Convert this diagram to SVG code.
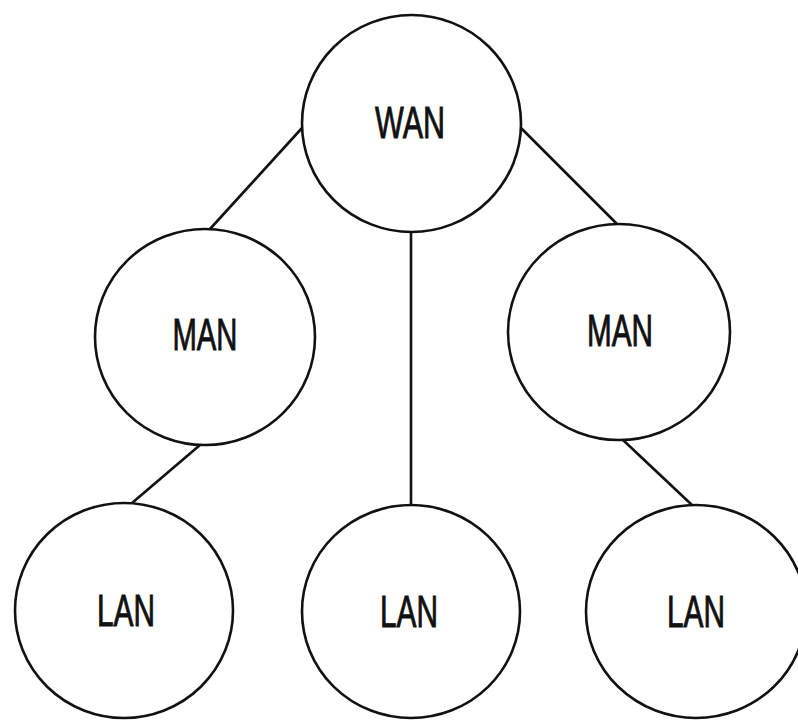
<svg xmlns="http://www.w3.org/2000/svg" width="798" height="722" viewBox="0 0 798 722">
<style>
.node ellipse{fill:#fff;stroke:#111;stroke-width:2.6}
.node text{font-family:"Liberation Sans",Arial,sans-serif;font-size:44px;fill:#111;stroke:#111;stroke-width:0.9;text-anchor:middle}
.edges line{stroke:#111;stroke-width:2.6}
</style>
<rect width="798" height="722" fill="#fff"/>
<g class="edges">
<line x1="302" y1="128" x2="210" y2="229"/>
<line x1="521" y1="128" x2="617" y2="224"/>
<line x1="411" y1="232" x2="411" y2="505"/>
<line x1="200" y1="445" x2="132" y2="503"/>
<line x1="623" y1="440" x2="692" y2="505"/>
</g>
<g id="wan" class="node"><ellipse cx="411.5" cy="123.5" rx="109.5" ry="108.5"/><text x="410" y="138" textLength="70" lengthAdjust="spacingAndGlyphs">WAN</text></g>
<g id="man-left" class="node"><ellipse cx="205" cy="337" rx="110" ry="108"/><text x="205" y="350" textLength="65" lengthAdjust="spacingAndGlyphs">MAN</text></g>
<g id="man-right" class="node"><ellipse cx="619" cy="332" rx="111" ry="108"/><text x="620" y="346" textLength="66" lengthAdjust="spacingAndGlyphs">MAN</text></g>
<g id="lan-left" class="node"><ellipse cx="124" cy="610.5" rx="109" ry="107.5"/><text x="126" y="626" textLength="58" lengthAdjust="spacingAndGlyphs">LAN</text></g>
<g id="lan-mid" class="node"><ellipse cx="411" cy="611.5" rx="109" ry="106.5"/><text x="409" y="627" textLength="58" lengthAdjust="spacingAndGlyphs">LAN</text></g>
<g id="lan-right" class="node"><ellipse cx="696" cy="611.5" rx="110" ry="106.5"/><text x="696" y="627" textLength="58" lengthAdjust="spacingAndGlyphs">LAN</text></g>
</svg>
